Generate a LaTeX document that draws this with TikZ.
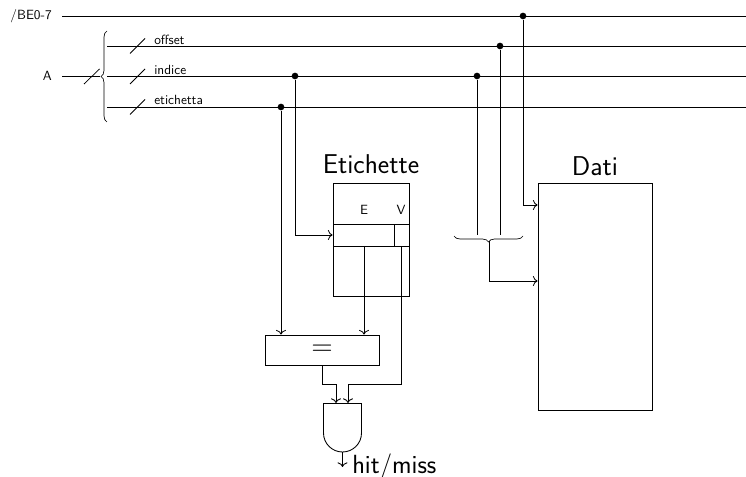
\documentclass[tikz,border=0pt]{standalone}
\usetikzlibrary{decorations.pathreplacing,arrows.meta}
\tikzset{
  wire/.style={line width=0.65pt},
  arrowwire/.style={wire,-{Computer Modern Rightarrow[width=7.5pt,length=3.5pt]}},
  boxn/.style={draw,line width=0.65pt,inner sep=0pt,minimum width=#1},
  joint/.style={circle,fill=black,inner sep=0pt,minimum size=5pt},
  busmark/.style={line width=0.55pt},
  small/.style={font=\sffamily\fontsize{10}{12}\selectfont,inner sep=0pt},
  big/.style={font=\sffamily\fontsize{20.4}{24}\selectfont,inner sep=0pt},
  bracedraw/.style={line width=0.5pt,decorate,decoration={brace,amplitude=4.5pt}}
}
\begin{document}
\begin{tikzpicture}[x=0.75pt,y=-0.75pt]
\useasboundingbox (0,0) rectangle (746,477);
% labels
\node[small,anchor=east] (be) at (52,16) {/BE0-7};
\node[small,anchor=east] (a) at (52,76) {A};
\coordinate (beS) at (62,16); \coordinate (beE) at (746,16);
\coordinate (aS) at (62,76); \coordinate (aE) at (100,76);
\coordinate (oS) at (107,46); \coordinate (oE) at (746,46);
\coordinate (iS) at (107,76); \coordinate (iE) at (746,76);
\coordinate (eS) at (107,107); \coordinate (eE) at (746,107);
\draw[wire] (beS) -- (beE);
\draw[wire] (aS) -- (aE);
\draw[wire] (oS) -- (oE);
\draw[wire] (iS) -- (iE);
\draw[wire] (eS) -- (eE);
% main brace
\coordinate (brT) at (107,31); \coordinate (brB) at (107,122);
\draw[bracedraw] (brB) -- (brT);
% bus marks
\draw[busmark] (84,84) -- (99.5,69);
\draw[busmark] (130,53.5) -- (145,38.5);
\draw[busmark] (130,84) -- (145,69);
\draw[busmark] (130,114.5) -- (145,99.5);
\node[small,anchor=west] (loff) at (154,40) {offset};
\node[small,anchor=west] (lind) at (154,70) {indice};
\node[small,anchor=west] (leti) at (154,100) {etichetta};
% joints
\node[joint] (j1) at (523,16) {};
\node[joint] (j2) at (500,46) {};
\node[joint] (j3) at (477,76) {};
\node[joint] (j4) at (295,76) {};
\node[joint] (j5) at (281,107) {};
% boxes
\node[boxn=76*0.75pt,minimum height=113*0.75pt] (etbox) at (371,239.5) {};
\node[boxn=61*0.75pt,minimum height=22*0.75pt] (row) at (363.5,235) {};
\node[boxn=15*0.75pt,minimum height=22*0.75pt] (rowv) at (401.5,235) {};
\node[small] (le) at (364,210) {E};
\node[small] (lv) at (401,210) {V};
\node[big] (tet) at (371,164.5) {Etichette};
\node[boxn=114*0.75pt,minimum height=227*0.75pt] (dati) at (595,296.5) {};
\node[big] (tda) at (595,166.5) {Dati};
\node[boxn=114*0.75pt,minimum height=30*0.75pt,font=\sffamily\fontsize{22}{24}\selectfont] (eq) at (322,350) {=};
% AND gate
\coordinate (gTL) at (323.5,403.5); \coordinate (gTR) at (361.5,403.5); \coordinate (gB) at (342.5,452);
\draw[wire] (gTL) -- (gTR) -- (361.5,433) .. controls (361.5,444) and (352.5,452) .. (gB) .. controls (332.5,452) and (323.5,444) .. (323.5,433) -- cycle;
% data wires
\draw[arrowwire] (j1) |- (dati.west |- 0,205);
\draw[arrowwire] (j4) |- (row.west);
\draw[arrowwire] (j5) -- (j5 |- eq.north);
\coordinate (eOut) at (364,246);
\draw[arrowwire] (eOut) -- (eOut |- eq.north);
% gate inputs
\coordinate (g1) at (336,403); \coordinate (g2) at (348,403);
\draw[arrowwire] (eq.south) -- (322,384) -- (336,384) -- (g1);
\draw[arrowwire] (rowv.south) -- (401.5,384) -- (348,384) -- (g2);
\node[big,anchor=base west,font=\sffamily\fontsize{19.7}{24}\selectfont] (hit) at (352,473) {hit/miss};
\draw[arrowwire] (gB) -- (342.5,467);
% selection brace
\coordinate (b2L) at (454,236); \coordinate (b2R) at (523,236);
\draw[bracedraw] (b2R) -- (b2L);
\draw[wire] (j3) -- (477,235);
\draw[wire] (j2) -- (500,235);
\coordinate (b2T) at (489,241);
\draw[arrowwire] (b2T) |- (dati.west |- 0,281);
\end{tikzpicture}
\end{document}
